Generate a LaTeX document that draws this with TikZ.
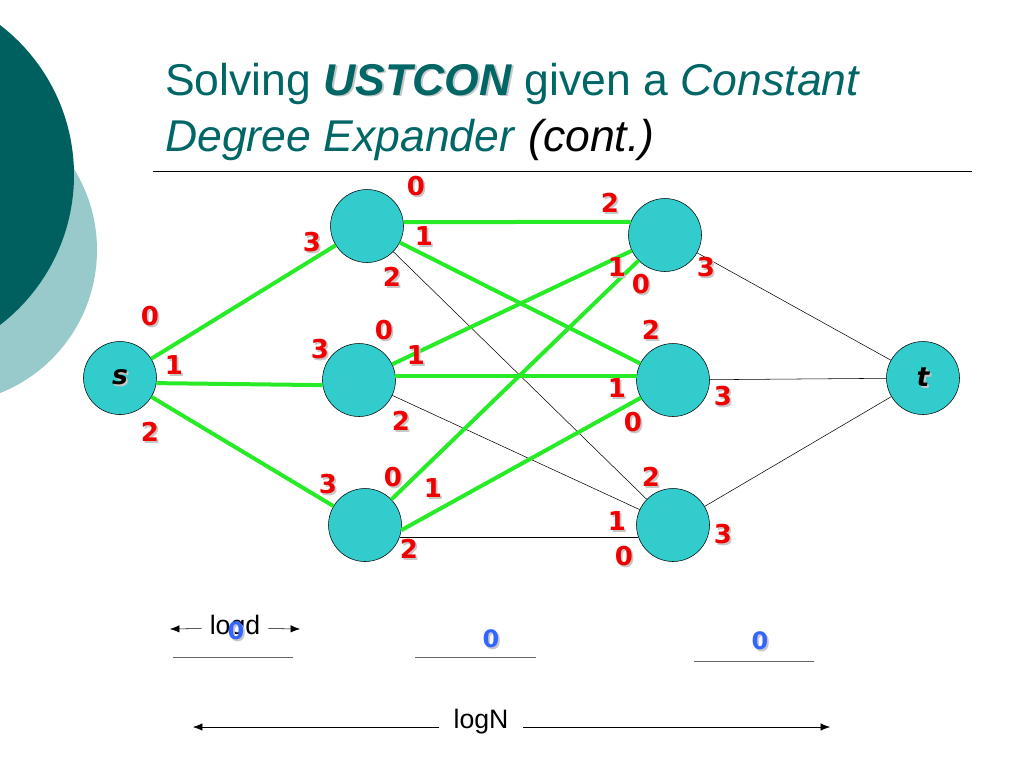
\documentclass[tikz,border=0pt]{standalone}
\usepackage{fontspec}
\setmainfont{Liberation Sans}
\newfontfamily\digitfont{DejaVu Sans}
\usetikzlibrary{positioning, arrows.meta}

\definecolor{titleteal}{RGB}{0,102,102}
\definecolor{darkteal}{RGB}{0,96,96}
\definecolor{lightteal}{RGB}{152,202,204}
\definecolor{nodecyan}{RGB}{51,204,204}
\definecolor{edgegreen}{RGB}{40,235,40}
\definecolor{portred}{RGB}{240,0,0}
\definecolor{stepblue}{RGB}{51,102,255}

% text with a soft drop shadow
\newcommand{\shadowed}[2][black!22]{\rlap{\kern1.3pt\raisebox{-1.3pt}{\textcolor{#1}{#2}}}#2}

\begin{document}
\begin{tikzpicture}[x=0.75pt,y=-0.75pt,
    vertex/.style={circle, draw=black, thin, fill=nodecyan, minimum size=54.75pt, inner sep=0pt,
        font=\digitfont\bfseries\itshape\fontsize{20}{24}\selectfont},
    port/.style={text=portred, inner sep=0pt, font=\digitfont\bfseries\fontsize{19.5}{23}\selectfont},
    stepdigit/.style={text=stepblue, inner sep=0pt, font=\digitfont\bfseries\fontsize{18}{21}\selectfont},
    expand/.style={draw=edgegreen, line width=3pt},
    plain/.style={draw=black, thin},
    tip/.style={-{Latex[length=7pt, width=5.5pt]}},
    measure/.style={font=\fontsize{20}{24}\selectfont, inner ysep=0pt}]
    \useasboundingbox (0,0) rectangle (1024,768);

    % Corner decoration
    \begin{scope}
        \clip (0,0) rectangle (1024,768);
        \fill[lightteal] (-57,250) circle[radius=115.5pt];
        \fill[darkteal] (-115,175) circle[radius=141.75pt];
    \end{scope}

    % Title and rule
    \node[anchor=base west, inner sep=0pt, text=titleteal, font=\fontsize{33.4}{40}\selectfont] (title1) at (165,95)
        {Solving \textbf{\textit{\shadowed{USTCON}}} given a \textit{Constant}};
    \node[anchor=base west, inner sep=0pt, text=titleteal, font=\fontsize{33.4}{40}\selectfont] (title2) at (165,151)
        {\textit{Degree Expander} \textcolor{black}{\textit{(cont.)}}};
    \draw (153,171) -- (972,171);

    % Vertices
    \node[vertex] (s) at (120,378) {\shadowed{s}};
    \node[vertex] (A1) at (367,226) {};
    \node[vertex] (A2) at (359,380) {};
    \node[vertex] (A3) at (365,525) {};
    \node[vertex] (B1) at (665,235) {};
    \node[vertex] (B2) at (673,380) {};
    \node[vertex] (B3) at (673,525) {};
    \node[vertex] (t) at (923,378) {\shadowed{t}};

    % Thin edges
    \draw[plain] (A1) -- (B3);
    \draw[plain] (A2) -- (B3);
    \draw[plain] (A3.-20) -- (B3.200);
    \draw[plain] (B1) -- (t);
    \draw[plain] (B2) -- (t);
    \draw[plain] (B3) -- (t);

    % Expander edges
    \draw[expand] (s) -- (A1);
    \draw[expand] (s.-8) -- (A2.188);
    \draw[expand] (s) -- (A3);
    \draw[expand] (A1.6) -- (B1.159);
    \draw[expand] (A1) -- (B2);
    \draw[expand] (A2) -- (B1);
    \draw[expand] (A2.7) -- (B2.173);
    \draw[expand] (A3) -- (B1);
    \draw[expand] (A3.-8) -- (B2);

    % Port numbers of s
    \node[port] (s0) at (150,317) {\shadowed{0}};
    \node[port] (s1) at (174,366) {\shadowed{1}};
    \node[port] (s2) at (150,433) {\shadowed{2}};

    % Port numbers, left column
    \node[port] (a10) at (416,187) {\shadowed{0}};
    \node[port] (a11) at (424,237) {\shadowed{1}};
    \node[port] (a12) at (392,278) {\shadowed{2}};
    \node[port] (a13) at (312,243) {\shadowed{3}};
    \node[port] (a20) at (384,331) {\shadowed{0}};
    \node[port] (a21) at (416,356) {\shadowed{1}};
    \node[port] (a22) at (401,422) {\shadowed{2}};
    \node[port] (a23) at (320,350) {\shadowed{3}};
    \node[port] (a30) at (393,478) {\shadowed{0}};
    \node[port] (a31) at (433,489) {\shadowed{1}};
    \node[port] (a32) at (409,550) {\shadowed{2}};
    \node[port] (a33) at (328,485) {\shadowed{3}};

    % Port numbers, right column
    \node[port] (b10) at (641,285) {\shadowed{0}};
    \node[port] (b11) at (617,268) {\shadowed{1}};
    \node[port] (b12) at (610,204) {\shadowed{2}};
    \node[port] (b13) at (706,268) {\shadowed{3}};
    \node[port] (b20) at (633,423) {\shadowed{0}};
    \node[port] (b21) at (617,389) {\shadowed{1}};
    \node[port] (b22) at (651,331) {\shadowed{2}};
    \node[port] (b23) at (723,397) {\shadowed{3}};
    \node[port] (b30) at (624,557) {\shadowed{0}};
    \node[port] (b31) at (617,522) {\shadowed{1}};
    \node[port] (b32) at (651,478) {\shadowed{2}};
    \node[port] (b33) at (723,535) {\shadowed{3}};

    % Walk length
    \node[measure, inner xsep=6pt] (logd) at (235,628) {logd};
    \coordinate (logdL) at (170,629);
    \coordinate (logdR) at (300,629);
    \draw[tip] (logd) -- (logdL);
    \draw[tip] (logd) -- (logdR);
    \node[measure, inner xsep=11pt] (logN) at (481,722) {logN};
    \coordinate (logNL) at (193,727);
    \coordinate (logNR) at (830,727);
    \draw[tip] (logN.west |- logNL) -- (logNL);
    \draw[tip] (logN.east |- logNR) -- (logNR);

    % Steps of the walk
    \draw[black!60] (173,657) -- (293,657);
    \draw[black!60] (415,657) -- (536,657);
    \draw[black!60] (694,661) -- (814,661);
    \node[stepdigit] (d1) at (236,632) {\shadowed{0}};
    \node[stepdigit] (d2) at (491,640) {\shadowed{0}};
    \node[stepdigit] (d3) at (760,642) {\shadowed{0}};
\end{tikzpicture}
\end{document}
